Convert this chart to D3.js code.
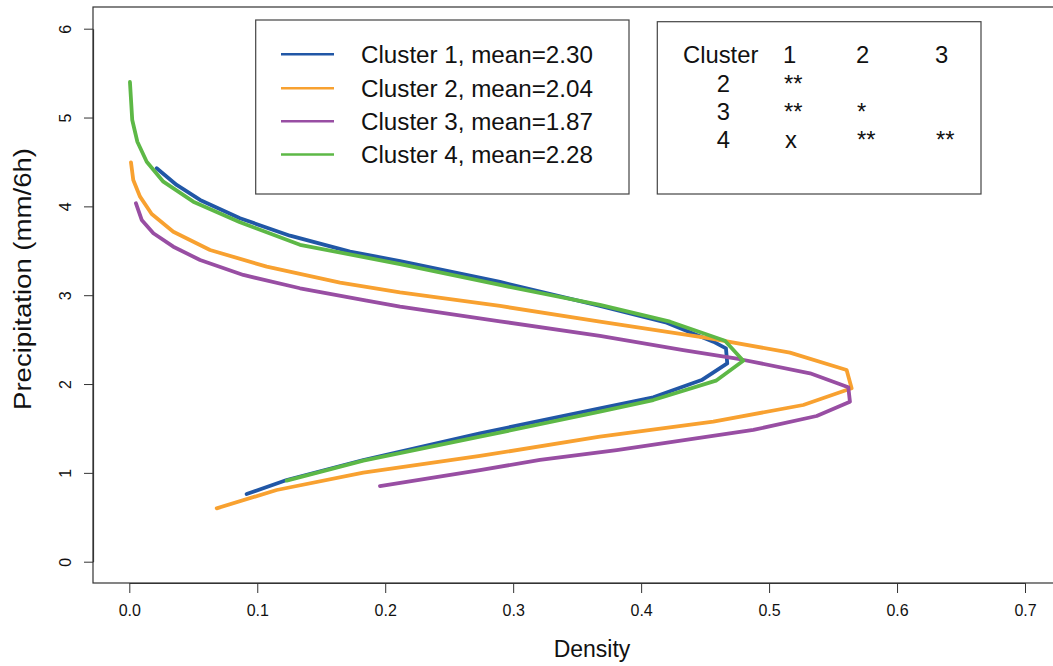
<!DOCTYPE html>
<html>
<head>
<meta charset="utf-8">
<script src="https://cdn.jsdelivr.net/npm/d3@7"></script>
<style>
  html, body { margin: 0; padding: 0; background: #fff; }
  svg { display: block; font-family: "Liberation Sans", Arial, Helvetica, sans-serif; }
</style>
</head>
<body>
<svg id="chart" width="1053" height="666"></svg>
<script>
// Density of 6-hourly precipitation per cluster (x = density, y = precipitation)
const clusterNames = ["Cluster 1", "Cluster 2", "Cluster 3", "Cluster 4"];
const clusterMeans = [2.30, 2.04, 1.87, 2.28];
const clusterColors = ["#2157a6", "#f8a130", "#984ea3", "#5db846"];

const c1Density = [0.0214, 0.0370, 0.0553, 0.0865, 0.1256, 0.1725, 0.2116, 0.2897, 0.3678, 0.4200, 0.4564, 0.4663, 0.4673, 0.4473, 0.4095, 0.3678, 0.2741, 0.1829, 0.1230, 0.0917];
const c1Precip  = [4.429, 4.241, 4.072, 3.866, 3.670, 3.490, 3.385, 3.149, 2.879, 2.691, 2.477, 2.402, 2.233, 2.045, 1.851, 1.727, 1.445, 1.145, 0.920, 0.762];

const c2Density = [0.0013, 0.0031, 0.0084, 0.0175, 0.0344, 0.0631, 0.1074, 0.1647, 0.2116, 0.2897, 0.3678, 0.4538, 0.5163, 0.5606, 0.5645, 0.5267, 0.4564, 0.3678, 0.2741, 0.1829, 0.1152, 0.0683];
const c2Precip  = [4.496, 4.297, 4.109, 3.914, 3.715, 3.509, 3.321, 3.141, 3.033, 2.879, 2.702, 2.515, 2.353, 2.158, 1.952, 1.764, 1.576, 1.407, 1.190, 1.002, 0.807, 0.601];

const c3Density = [0.0052, 0.0097, 0.0188, 0.0344, 0.0553, 0.0891, 0.1334, 0.1855, 0.2116, 0.2897, 0.3678, 0.4329, 0.4773, 0.5320, 0.5619, 0.5632, 0.5372, 0.4877, 0.3809, 0.3210, 0.2741, 0.1959];
const c3Precip  = [4.035, 3.847, 3.697, 3.546, 3.396, 3.228, 3.078, 2.938, 2.871, 2.706, 2.541, 2.383, 2.279, 2.121, 1.963, 1.801, 1.640, 1.483, 1.257, 1.145, 1.032, 0.852];

const c4Density = [0.0005, 0.0023, 0.0063, 0.0136, 0.0266, 0.0500, 0.0865, 0.1334, 0.2116, 0.2897, 0.3678, 0.4226, 0.4655, 0.4798, 0.4585, 0.4095, 0.3678, 0.2741, 0.1829, 0.1230];
const c4Precip  = [5.400, 4.972, 4.728, 4.503, 4.278, 4.053, 3.821, 3.567, 3.351, 3.115, 2.890, 2.702, 2.488, 2.263, 2.038, 1.820, 1.689, 1.407, 1.137, 0.912];

const xTicks = [0, 0.1, 0.2, 0.3, 0.4, 0.5, 0.6, 0.7];
const yTicks = [0, 1, 2, 3, 4, 5, 6];

// Pairwise significance between clusters
const sigColumns = ["1", "2", "3"];
const sigRowLabels = ["2", "3", "4"];
const sigRows = [
  ["**", "", ""],
  ["**", "*", ""],
  ["x", "**", "**"]
];

const series = [
  { density: c1Density, precip: c1Precip },
  { density: c2Density, precip: c2Precip },
  { density: c3Density, precip: c3Precip },
  { density: c4Density, precip: c4Precip }
];

const svg = d3.select("#chart");

const x = d3.scaleLinear().domain([0, 0.7]).range([129.3, 1025]);
const y = d3.scaleLinear().domain([0, 6]).range([561.7, 28.7]);

// plot frame (right edge lies beyond the visible area)
const frame = { left: 93, top: 7, right: 1091, bottom: 583 };
svg.append("rect")
  .attr("x", frame.left).attr("y", frame.top)
  .attr("width", frame.right - frame.left).attr("height", frame.bottom - frame.top)
  .attr("fill", "none").attr("stroke", "#333").attr("stroke-width", 1.2);

// x axis
const xAxis = svg.append("g")
  .attr("transform", `translate(0,${frame.bottom})`)
  .call(d3.axisBottom(x).tickValues(xTicks).tickFormat(d3.format(".1f")).tickSize(10).tickSizeOuter(0));
xAxis.select(".domain").attr("stroke", "#333").attr("stroke-width", 1.2);
xAxis.selectAll(".tick line").attr("stroke", "#333");
xAxis.selectAll(".tick text")
  .attr("y", 22).attr("dy", "0.71em")
  .attr("font-size", 16).attr("fill", "#111")
  .attr("font-family", "Liberation Sans, Arial, sans-serif");

// y axis with labels turned parallel to the axis
const yAxis = svg.append("g")
  .attr("transform", `translate(${frame.left},0)`)
  .call(d3.axisLeft(y).tickValues(yTicks).tickFormat(d3.format("d")).tickSize(9).tickSizeOuter(0));
yAxis.select(".domain").attr("stroke", "#333").attr("stroke-width", 1.2);
yAxis.selectAll(".tick line").attr("stroke", "#333");
yAxis.selectAll(".tick text")
  .attr("x", null).attr("dy", null)
  .attr("transform", "translate(-28,0) rotate(-90)")
  .attr("text-anchor", "middle").attr("dominant-baseline", "central")
  .attr("font-size", 16).attr("fill", "#111")
  .attr("font-family", "Liberation Sans, Arial, sans-serif");

// axis titles
svg.append("text")
  .attr("x", (frame.left + frame.right) / 2).attr("y", 657)
  .attr("text-anchor", "middle").attr("font-size", 23).attr("fill", "#111")
  .text("Density");
svg.append("text")
  .attr("transform", "translate(31,279) rotate(-90)")
  .attr("text-anchor", "middle").attr("font-size", 23.5).attr("fill", "#111")
  .attr("textLength", 262).attr("lengthAdjust", "spacingAndGlyphs")
  .text("Precipitation (mm/6h)");

// density curves
const line = d3.line().x(d => x(d[0])).y(d => y(d[1]));
series.forEach((s, i) => {
  const pts = s.density.map((d, j) => [d, s.precip[j]]);
  svg.append("path")
    .datum(pts)
    .attr("d", line)
    .attr("fill", "none")
    .attr("stroke", clusterColors[i])
    .attr("stroke-width", 3.8)
    .attr("stroke-linejoin", "round")
    .attr("stroke-linecap", "round");
});

// legend
const legend = svg.append("g");
legend.append("rect")
  .attr("x", 255.7).attr("y", 20).attr("width", 373.3).attr("height", 174)
  .attr("fill", "#fff").attr("stroke", "#444").attr("stroke-width", 1.2);
const legendRowY = [54.3, 88.3, 121.3, 154.6];
clusterNames.forEach((name, i) => {
  legend.append("line")
    .attr("x1", 281).attr("x2", 334)
    .attr("y1", legendRowY[i]).attr("y2", legendRowY[i])
    .attr("stroke", clusterColors[i]).attr("stroke-width", 2.5);
  legend.append("text")
    .attr("x", 361).attr("y", legendRowY[i]).attr("dy", "0.35em")
    .attr("font-size", 24.2).attr("fill", "#111")
    .text(`${name}, mean=${clusterMeans[i].toFixed(2)}`);
});

// significance table
const table = svg.append("g");
table.append("rect")
  .attr("x", 657.3).attr("y", 21.7).attr("width", 323.7).attr("height", 172.3)
  .attr("fill", "#fff").attr("stroke", "#444").attr("stroke-width", 1.2);
const colX = [784, 857, 936];
const headerY = 62.7;
const rowY = [91.7, 120, 148.3];
table.append("text").attr("x", 683).attr("y", headerY)
  .attr("font-size", 23.8).attr("fill", "#111").text("Cluster");
sigColumns.forEach((c, i) => {
  table.append("text").attr("x", colX[i] - 1).attr("y", headerY)
    .attr("font-size", 23.8).attr("fill", "#111").text(c);
});
sigRowLabels.forEach((r, i) => {
  table.append("text").attr("x", 716.7).attr("y", rowY[i])
    .attr("font-size", 23.8).attr("fill", "#111").text(r);
  sigRows[i].forEach((v, j) => {
    if (!v) return;
    table.append("text").attr("x", colX[j] + (v === "x" ? 1 : 0)).attr("y", rowY[i])
      .attr("font-size", 23.8).attr("fill", "#111").text(v);
  });
});
</script>
</body>
</html>
